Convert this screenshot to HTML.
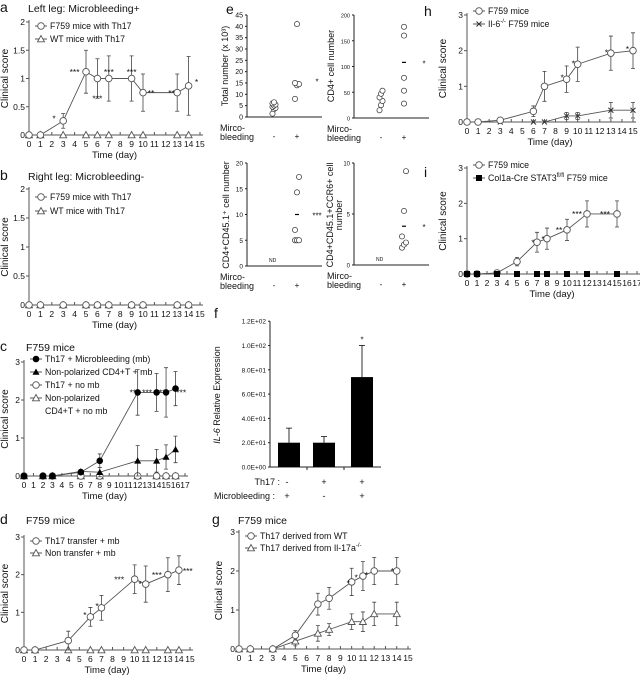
<!DOCTYPE html>
<html><head><meta charset="utf-8"><style>
html,body{margin:0;padding:0;background:#fff}
svg{display:block;font-family:"Liberation Sans",sans-serif}
</style></head><body>
<svg id="fig" width="640" height="676" viewBox="0 0 640 676" xmlns="http://www.w3.org/2000/svg"></svg>
<script>
// ---------- DATA ----------
const aDays=[0,1,3,5,6,7,9,10,13,14];
const aF759=[0,0,0.25,1.12,1,1,1,0.75,0.75,0.87];
const aF759Err=[0,0,0.13,0.38,0.35,0.4,0.4,0.33,0.33,0.52];
const aWT=[0,0,0,0,0,0,0,0,0,0];
const aStars=[["*",2.2,0.33],["***",4,1.15],["***",6,0.68],["***",7,1.15],["***",9,1.15],["**",10.7,0.78],["**",12.5,0.78],["*",14.7,0.97]];
const bDays=[0,1,3,5,6,7,9,10,13,14];
const bF759=[0,0,0,0,0,0,0,0,0,0];
const bWT=[0,0,0,0,0,0,0,0,0,0];
const cDays=[0,2,3,6,8,12,14,15,16];
const cTh17mb=[0,0,0,0.1,0.4,2.2,2.2,2.2,2.3];
const cTh17mbErr=[0,0,0,0.05,0.18,0.6,0.5,0.65,0.45];
const cNPmb=[0,0,0,0.12,0.1,0.4,0.4,0.5,0.7];
const cNPmbErr=[0,0,0,0.05,0.12,0.4,0.3,0.32,0.35];
const cTh17no=[0,0,0,0,0,0,0,0,0];
const cNPno=[0,0,0,0,0,0,0,0,0];
const cStars=[["**",11.5,2.25],["***",13,2.25],["**",14.6,2.25],["***",16.6,2.25]];
const dDays=[0,1,4,6,7,10,11,13,14];
const dTh17=[0,0,0.25,0.88,1.12,1.88,1.75,2,2.12];
const dTh17Err=[0,0,0.25,0.25,0.33,0.38,0.48,0.45,0.38];
const dNon=[0,0,0,0,0,0,0,0,0];
const dStars=[["*",5.5,0.98],["*",6.6,1.22],["***",8.6,1.93],["*",10.5,1.8],["***",12,2.05],["***",14.8,2.15]];
const gDays=[0,1,3,5,7,8,10,11,12,14];
const gWT=[0,0,0,0.35,1.15,1.3,1.72,1.87,2,2];
const gWTErr=[0,0,0,0.12,0.28,0.28,0.35,0.37,0.35,0.35];
const gKO=[0,0,0,0.2,0.4,0.5,0.7,0.7,0.9,0.9];
const gKOErr=[0,0,0,0.12,0.2,0.15,0.2,0.25,0.3,0.3];
const gStars=[["*",9.7,1.75],["*",10.4,1.88],["*",11.3,1.95],["*",13.6,2.05]];
const hDays=[0,1,3,6,7,9,10,13,15];
const hF759=[0,0,0.05,0.3,1,1.2,1.62,1.93,2];
const hF759Err=[0,0,0.02,0.15,0.42,0.37,0.48,0.48,0.5];
const hIL6=[0,0,0,0,0,0.17,0.17,0.33,0.33];
const hIL6Err=[0,0,0,0,0,0.1,0.1,0.22,0.22];
const hStars=[["*",8.6,1.3],["*",9.6,1.7],["*",12.6,2.0],["*",14.5,2.1]];
const iDays=[0,1,3,5,7,8,10,12,15];
const iF759=[0,0,0.03,0.35,0.9,1,1.25,1.7,1.7];
const iF759Err=[0,0,0.02,0.12,0.28,0.3,0.3,0.37,0.37];
const iCol=[0,0,0,0,0,0,0,0,0];
const iStars=[["*",6.6,0.95],["*",7.6,1.05],["**",9.2,1.3],["***",11,1.75],["***",13.8,1.75]];
const fVals=[20,20,74];
const fErr=[12,5,26];
const fTicks=["0.0E+00","2.0E+01","4.0E+01","6.0E+01","8.0E+01","1.0E+02","1.2E+02"];
const eTotMinus=[1.5,3.5,4,4.5,5,5.5,6,6.5];
const eTotPlus=[8,14,14.5,15,41];
const eCD4Minus=[15,25,33,40,47,53];
const eCD4Plus=[28,53,78,160,177];
const eCD4Mean=108;
const eCD45Plus=[5,5,5,7,14.3,17.3];
const eCD45Mean=10;
const eCCR6Plus=[1.7,2,2.2,2.8,5.3,9.2];
const eCCR6Mean=3.8;

// ---------- HELPERS ----------
const NS="http://www.w3.org/2000/svg";
const svg=document.getElementById('fig');
const LC="#555";
function mk(tag,attrs,parent,name){
  const el=document.createElementNS(NS,tag);
  for(const k in attrs) el.setAttribute(k,attrs[k]);
  
  
  (parent||svg).appendChild(el);return el;
}
function txt(x,y,s,size,parent,name,anchor,extra){
  const t=mk('text',Object.assign({x:x,y:y,'font-size':size,fill:'#111','text-anchor':anchor||'start'},extra||{}),parent,name);
  t.textContent=s;return t;
}
function marker(g,x,y,type,name){
  if(type==='oc') mk('circle',{cx:x,cy:y,r:3.3,fill:'#fff',stroke:LC,'stroke-width':0.9},g,name);
  else if(type==='fc') mk('circle',{cx:x,cy:y,r:3.3,fill:'#000'},g,name);
  else if(type==='ot') mk('polygon',{points:`${x},${y-3.5} ${x-3.5},${y+2.8} ${x+3.5},${y+2.8}`,fill:'#fff',stroke:LC,'stroke-width':0.9},g,name);
  else if(type==='ft') mk('polygon',{points:`${x},${y-3.5} ${x-3.5},${y+2.8} ${x+3.5},${y+2.8}`,fill:'#000'},g,name);
  else if(type==='fs') mk('rect',{x:x-3,y:y-3,width:6,height:6,fill:'#000'},g,name);
  else if(type==='x'){mk('path',{d:`M${x-2.5},${y-2.5}L${x+2.5},${y+2.5}M${x+2.5},${y-2.5}L${x-2.5},${y+2.5}`,stroke:'#333','stroke-width':1},g,name);}
}
function linePanel(c){
  const g=mk('g',{},svg,c.name);
  const px=v=>c.x0+(v)*(c.x1-c.x0)/c.xmax;
  const py=v=>c.y0-v*(c.y0-c.y1)/c.ymax;
  mk('line',{x1:c.x0,y1:c.y1-2,x2:c.x0,y2:c.y0,stroke:LC,'stroke-width':1},g,'y-axis');
  mk('line',{x1:c.x0,y1:c.y0,x2:c.x1+3,y2:c.y0,stroke:LC,'stroke-width':1},g,'x-axis');
  for(const v of c.yt){
    mk('line',{x1:c.x0-3,y1:py(v),x2:c.x0,y2:py(v),stroke:LC},g,'y-tick');
    txt(c.x0-4,py(v)+3,String(v),8.5,g,'y-tick-label','end');
  }
  for(let d=0;d<=c.xmax;d++){
    mk('line',{x1:px(d),y1:c.y0,x2:px(d),y2:c.y0-3,stroke:LC},g,'x-tick');
    txt(px(d),c.y0+12,String(d),8.5,g,'x-tick-label','middle');
  }
  txt((c.x0+c.x1)/2,c.y0+23,'Time (day)',9.5,g,'x-axis-title','middle');
  const cy=(c.y0+c.y1)/2;
  const yl=c.ylx||12;
  txt(yl,cy,'Clinical score',10,g,'y-axis-title','middle',{transform:`rotate(-90 ${yl} ${cy})`});
  for(const s of c.series){
    const sg=mk('g',{},g,s.name);
    let d='';
    s.days.forEach((x,i)=>{d+=(i?'L':'M')+px(x)+','+py(s.vals[i]);});
    mk('path',{d:d,fill:'none',stroke:LC,'stroke-width':0.9},sg,s.name+'-line');
    if(s.errs) s.days.forEach((x,i)=>{if(s.errs[i]>0){
      const X=px(x);
      mk('path',{d:`M${X},${py(s.vals[i]-s.errs[i])}L${X},${py(s.vals[i]+s.errs[i])}M${X-2},${py(s.vals[i]+s.errs[i])}L${X+2},${py(s.vals[i]+s.errs[i])}M${X-2},${py(s.vals[i]-s.errs[i])}L${X+2},${py(s.vals[i]-s.errs[i])}`,stroke:'#444','stroke-width':0.8,fill:'none'},sg,s.name+'-error-bar');}});
    s.days.forEach((x,i)=>marker(sg,px(x),py(s.vals[i]),s.m,s.name+'-point'));
  }
  for(const st of (c.stars||[])) txt(px(st[1]),py(st[2])+5,st[0],8.5,g,'significance-star','middle');
  c.legend.forEach((L,i)=>{
    const ly=c.ly+i*c.lstep;
    mk('line',{x1:c.lx,y1:ly,x2:c.lx+12,y2:ly,stroke:LC},g,'legend-line');
    marker(g,c.lx+6,ly,L[1],'legend-marker');
    const t=txt(c.lx+15,ly+3,'',8.8,g,'legend-entry');
    t.innerHTML=L[0];
  });
  return g;
}

// ---------- PANEL LABELS / TITLES ----------
txt(0,12,'a',14,svg,'panel-label-a');
txt(28,12,'Left leg: Microbleeding+',10.5,svg,'panel-a-title');
txt(0,180,'b',14,svg,'panel-label-b');
txt(28,180,'Right leg: Microbleeding-',10.5,svg,'panel-b-title');
txt(0,351,'c',14,svg,'panel-label-c');
txt(26,351,'F759 mice',10.5,svg,'panel-c-title');
txt(0,524,'d',14,svg,'panel-label-d');
txt(26,524,'F759 mice',10.5,svg,'panel-d-title');
txt(226,14,'e',14,svg,'panel-label-e');
txt(214,318,'f',14,svg,'panel-label-f');
txt(212,524,'g',14,svg,'panel-label-g');
txt(238,524,'F759 mice',10.5,svg,'panel-g-title');
txt(424,16,'h',14,svg,'panel-label-h');
txt(424,177,'i',14,svg,'panel-label-i');

linePanel({name:'panel-a-chart',x0:29,x1:200,xmax:15,y0:135,y1:22,ymax:2,yt:[0,0.5,1,1.5,2],ylx:8,
  series:[{name:'wt-series',days:aDays,vals:aWT,m:'ot'},{name:'f759-series',days:aDays,vals:aF759,errs:aF759Err,m:'oc'}],
  stars:aStars,lx:35,ly:26,lstep:13,legend:[['F759 mice with Th17','oc'],['WT mice with Th17','ot']]});
linePanel({name:'panel-b-chart',x0:29,x1:200,xmax:15,y0:305,y1:189,ymax:2,yt:[0,0.5,1,1.5,2],ylx:8,
  series:[{name:'wt-series',days:bDays,vals:bWT,m:'ot'},{name:'f759-series',days:bDays,vals:bF759,m:'oc'}],
  lx:35,ly:197,lstep:14,legend:[['F759 mice with Th17','oc'],['WT mice with Th17','ot']]});
linePanel({name:'panel-c-chart',x0:24,x1:185,xmax:17,y0:476,y1:362,ymax:3,yt:[0,1,2,3],ylx:8,
  series:[{name:'np-no-mb-series',days:cDays,vals:cNPno,m:'ot'},{name:'th17-no-mb-series',days:cDays,vals:cTh17no,m:'oc'},
    {name:'np-mb-series',days:cDays,vals:cNPmb,errs:cNPmbErr,m:'ft'},{name:'th17-mb-series',days:cDays,vals:cTh17mb,errs:cTh17mbErr,m:'fc'}],
  stars:cStars,lx:30,ly:359,lstep:13,legend:[['Th17 + Microbleeding (mb)','fc'],['Non-polarized CD4+T + mb','ft'],['Th17 + no mb','oc'],['Non-polarized','ot']]});
txt(45,414,'CD4+T + no mb',8.8,svg,'legend-entry-continued');
linePanel({name:'panel-d-chart',x0:24,x1:190,xmax:15,y0:650,y1:537,ymax:3,yt:[0,1,2,3],ylx:8,
  series:[{name:'non-transfer-series',days:dDays,vals:dNon,m:'ot'},{name:'th17-transfer-series',days:dDays,vals:dTh17,errs:dTh17Err,m:'oc'}],
  stars:dStars,lx:30,ly:541,lstep:12,legend:[['Th17 transfer + mb','oc'],['Non transfer + mb','ot']]});
linePanel({name:'panel-g-chart',x0:239,x1:408,xmax:15,y0:649,y1:532,ymax:3,yt:[0,1,2,3],ylx:222,
  series:[{name:'il17a-ko-series',days:gDays,vals:gKO,errs:gKOErr,m:'ot'},{name:'wt-th17-series',days:gDays,vals:gWT,errs:gWTErr,m:'oc'}],
  stars:gStars,lx:245,ly:536,lstep:12,legend:[['Th17 derived from WT','oc'],['Th17 derived from Il-17a<tspan font-size="6" dy="-4">-/-</tspan>','ot']]});
linePanel({name:'panel-h-chart',x0:467,x1:633,xmax:15,y0:122,y1:15,ymax:3,yt:[0,1,2,3],ylx:446,
  series:[{name:'il6-ko-series',days:hDays,vals:hIL6,errs:hIL6Err,m:'x'},{name:'f759-series',days:hDays,vals:hF759,errs:hF759Err,m:'oc'}],
  stars:hStars,lx:473,ly:11,lstep:13,legend:[['F759 mice','oc'],['Il-6<tspan font-size="6" dy="-4">-/-</tspan><tspan dy="4"> F759 mice</tspan>','x']]});
linePanel({name:'panel-i-chart',x0:467,x1:637,xmax:17,y0:274,y1:168,ymax:3,yt:[0,1,2,3],ylx:446,
  series:[{name:'f759-series',days:iDays,vals:iF759,errs:iF759Err,m:'oc'},{name:'col1a-cre-series',days:iDays,vals:iCol,m:'fs'}],
  stars:iStars,lx:473,ly:165,lstep:13,legend:[['F759 mice','oc'],['Col1a-Cre STAT3<tspan font-size="6" dy="-4">fl/fl</tspan><tspan dy="4"> F759 mice</tspan>','fs']]});

// ---------- PANEL E ----------
function dotPanel(c){
  const g=mk('g',{},svg,c.name);
  const py=v=>c.y0-v*(c.y0-c.y1)/c.ymax;
  mk('line',{x1:c.x0,y1:c.y1,x2:c.x0,y2:c.y0,stroke:'#222'},g,'y-axis');
  mk('line',{x1:c.x0,y1:c.y0,x2:c.x0+75,y2:c.y0,stroke:'#222'},g,'x-axis');
  for(const v of c.yt){
    mk('line',{x1:c.x0-2,y1:py(v),x2:c.x0,y2:py(v),stroke:'#222'},g,'y-tick');
    txt(c.x0-4,py(v)+2.5,String(v),c.fs||6.5,g,'y-tick-label','end');
  }
  const xm=c.x0+27,xp=c.x0+50;
  c.minus.forEach((v,i)=>mk('circle',{cx:xm+((i%3)-1)*1.5,cy:py(v),r:2.6,fill:'#fff',stroke:'#333','stroke-width':0.7},g,'minus-point'));
  c.plus.forEach((v,i)=>mk('circle',{cx:xp+(c.jit?((i%3)-1)*2:0),cy:py(v),r:2.6,fill:'#fff',stroke:'#333','stroke-width':0.7},g,'plus-point'));
  if(c.mean!=null) mk('line',{x1:xp-2,y1:py(c.mean),x2:xp+2,y2:py(c.mean),stroke:'#000','stroke-width':1.2},g,'mean-line');
  if(c.star) txt(xp+20,py(c.star[1])+4,c.star[0],8,g,'significance-star','middle');
  if(c.nd) txt(xm-5,c.y0-4,'ND',5,g,'not-detected-label');
  txt(c.x0-27,c.y0+14,'Mirco-',9,g,'x-label-line1');
  txt(c.x0-27,c.y0+23,'bleeding',9,g,'x-label-line2');
  txt(xm,c.y0+22,'-',8,g,'minus-label','middle');
  txt(xp,c.y0+22,'+',8,g,'plus-label','middle');
  return g;
}
dotPanel({name:'panel-e-total',x0:247,y0:117,y1:15,ymax:45,yt:[0,5,10,15,20,25,30,35,40,45],minus:eTotMinus,plus:eTotPlus,jit:true,star:['*',16],fs:7});
dotPanel({name:'panel-e-cd4',x0:354,y0:118,y1:15,ymax:200,yt:[0,50,100,150,200],minus:eCD4Minus,plus:eCD4Plus,mean:eCD4Mean,star:['*',108],fs:5.5});
dotPanel({name:'panel-e-cd45',x0:247,y0:266,y1:163,ymax:20,yt:[0,5,10,15,20],minus:[],plus:eCD45Plus,jit:true,mean:eCD45Mean,star:['***',10],nd:true});
dotPanel({name:'panel-e-ccr6',x0:354,y0:265,y1:163,ymax:10,yt:[0,5,10],minus:[],plus:eCCR6Plus,jit:true,mean:eCCR6Mean,star:['*',3.8],nd:true,fs:6});
txt(228,66,'Total number (x 10³)',9,svg,'e-total-y-title','middle',{transform:'rotate(-90 228 66)'});
txt(334,66,'CD4+ cell number',9,svg,'e-cd4-y-title','middle',{transform:'rotate(-90 334 66)'});
txt(229,215,'CD4+CD45.1⁺ cell number',9,svg,'e-cd45-y-title','middle',{transform:'rotate(-90 229 215)'});
txt(333,215,'CD4+CD45.1+CCR6+ cell',9,svg,'e-ccr6-y-title','middle',{transform:'rotate(-90 333 215)'});
txt(342,215,'number',9,svg,'e-ccr6-y-title-2','middle',{transform:'rotate(-90 342 215)'});

// ---------- PANEL F ----------
(function(){
  const g=mk('g',{},svg,'panel-f-chart');
  const x0=270,y0=467,ypx=24.3/20;
  const py=v=>y0-v*ypx;
  mk('line',{x1:x0,y1:py(120),x2:x0,y2:y0,stroke:'#222'},g,'y-axis');
  mk('line',{x1:x0,y1:y0,x2:381,y2:y0,stroke:'#222'},g,'x-axis');
  fTicks.forEach((s,i)=>{
    mk('line',{x1:x0-2,y1:py(i*20),x2:x0,y2:py(i*20),stroke:'#222'},g,'y-tick');
    txt(x0-4,py(i*20)+2.5,s,6.5,g,'y-tick-label','end');
  });
  [307,344].forEach(x=>mk('line',{x1:x,y1:y0,x2:x,y2:y0+3,stroke:'#222'},g,'x-tick'));
  const cx=[289,324,362];
  fVals.forEach((v,i)=>{
    const top=py(v+fErr[i]);
    mk('path',{d:`M${cx[i]},${py(v)}L${cx[i]},${top}M${cx[i]-3},${top}L${cx[i]+3},${top}`,stroke:'#000','stroke-width':0.8},g,'error-bar');
    mk('rect',{x:cx[i]-11,y:py(v),width:22,height:y0-py(v),fill:'#000'},g,'bar');
  });
  txt(362,py(fVals[2]+fErr[2])-3,'*',8,g,'significance-star','middle');
  txt(280,485,'Th17 :',9,g,'th17-row-label','end');
  txt(214,499,'Microbleeding :',9,g,'microbleeding-row-label');
  ['-','+','+'].forEach((s,i)=>txt(i==0?287:cx[i],485,s,9,g,'th17-row-value','middle'));
  ['+','-','+'].forEach((s,i)=>txt(i==0?287:cx[i],499,s,9,g,'microbleeding-row-value','middle'));
  const t=txt(220,395,'',9,g,'f-y-axis-title','middle',{transform:'rotate(-90 220 395)'});
  t.innerHTML='<tspan font-style="italic">IL-6</tspan> Relative Expression';
})();
</script>
</body></html>
